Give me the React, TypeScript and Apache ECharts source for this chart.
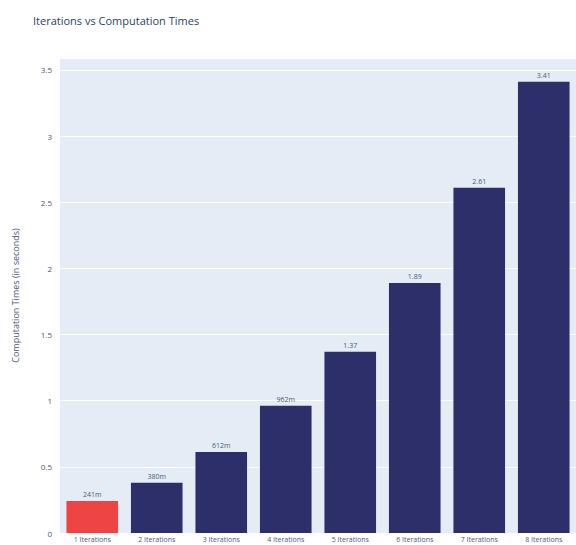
import React, { useEffect, useRef } from "react";
import * as echarts from "echarts";

const categories = [
  "1 Iterations",
  "2 Iterations",
  "3 Iterations",
  "4 Iterations",
  "5 Iterations",
  "6 Iterations",
  "7 Iterations",
  "8 Iterations",
];
const times = [0.241, 0.38, 0.612, 0.962, 1.37, 1.89, 2.61, 3.41];
const valueLabels = ["241m", "380m", "612m", "962m", "1.37", "1.89", "2.61", "3.41"];
const barColors = ["#EF4444", "#2D2F6B", "#2D2F6B", "#2D2F6B", "#2D2F6B", "#2D2F6B", "#2D2F6B", "#2D2F6B"];

const FONT = "'Open Sans', 'DejaVu Sans', sans-serif";

export default function App() {
  const ref = useRef<HTMLDivElement>(null);
  useEffect(() => {
    document.body.style.margin = "0";
    if (!ref.current) return;
    const chart = echarts.init(ref.current, undefined, { renderer: "svg" });
    chart.setOption({
      animation: false,
      backgroundColor: "#ffffff",
      title: {
        text: "Iterations vs Computation Times",
        left: 28,
        top: 10,
        textStyle: { fontFamily: FONT, fontSize: 11, fontWeight: "normal", color: "#2a3f5f" },
      },
      grid: { left: 60, right: -6, top: 58, bottom: 12, containLabel: false, backgroundColor: "#E5ECF6", show: true, borderWidth: 0 },
      xAxis: {
        type: "category",
        data: categories,
        axisLine: { show: false },
        axisTick: { show: false },
        axisLabel: { fontFamily: FONT, fontSize: 7, color: "#4a5a75", margin: 3, interval: 0 },
        splitLine: { show: false },
      },
      yAxis: {
        type: "value",
        min: 0,
        max: 3.59,
        interval: 0.5,
        name: "Computation Times (in seconds)",
        nameLocation: "middle",
        nameGap: 40,
        nameTextStyle: { fontFamily: FONT, fontSize: 9, color: "#4a5a75" },
        axisLine: { show: false },
        axisTick: { show: false },
        axisLabel: { fontFamily: FONT, fontSize: 8, color: "#4a5a75", margin: 8, showMaxLabel: false },
        splitLine: { lineStyle: { color: "#ffffff", width: 1 } },
      },
      series: [
        {
          type: "bar",
          data: times.map((v, i) => ({ value: v, itemStyle: { color: barColors[i] } })),
          barCategoryGap: "20%",
          label: {
            show: true,
            position: "top",
            distance: 3,
            fontFamily: FONT,
            fontSize: 7,
            color: "#4a5a75",
            formatter: (p: any) => valueLabels[p.dataIndex],
          },
        },
      ],
    });
    return () => chart.dispose();
  }, []);
  return <div ref={ref} style={{ width: 576, height: 545 }} />;
}
